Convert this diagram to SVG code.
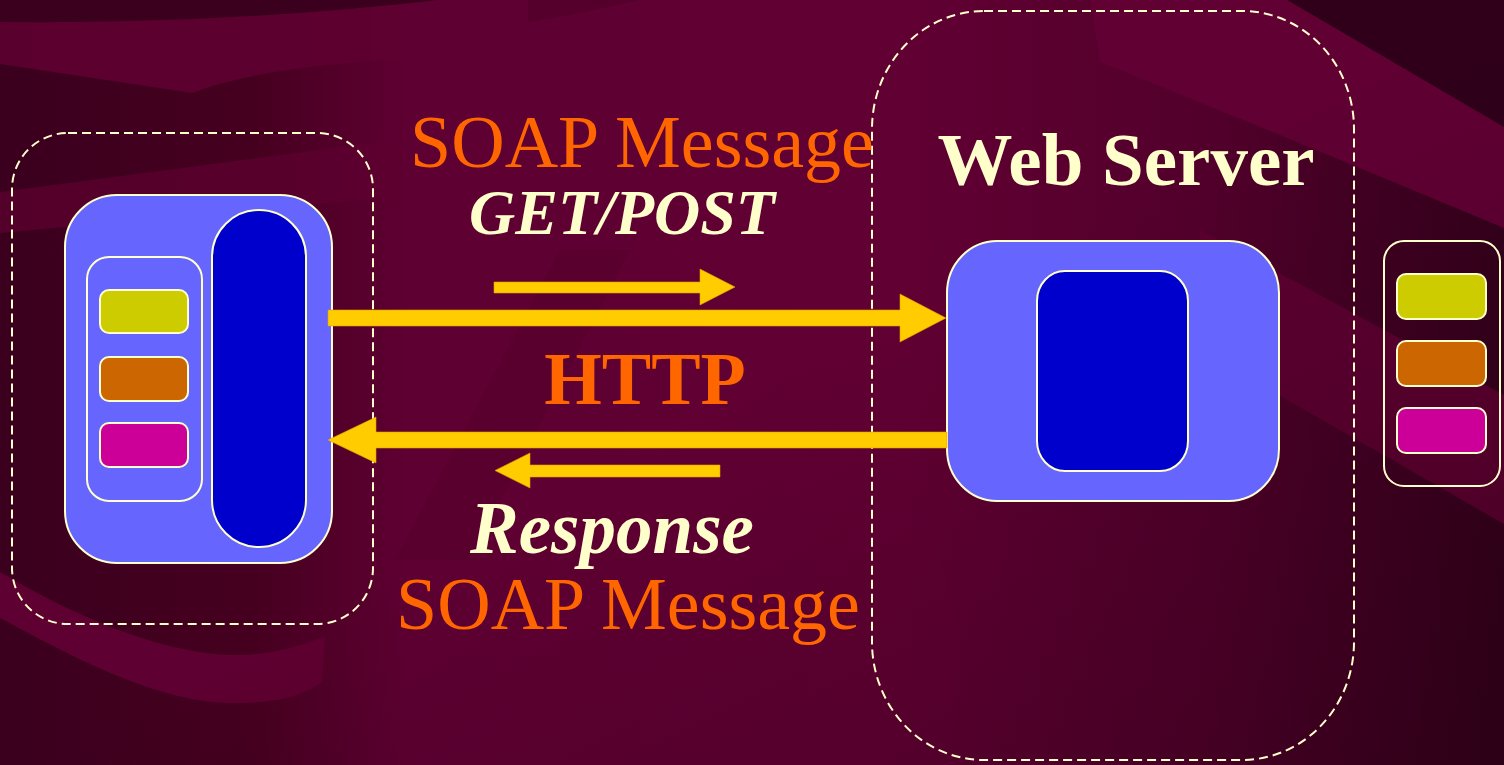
<svg xmlns="http://www.w3.org/2000/svg" width="1504" height="765" viewBox="0 0 1504 765">
  <defs>
    <linearGradient id="bgGrad" x1="0" y1="0" x2="1" y2="0">
      <stop offset="0" stop-color="#3a001e"/>
      <stop offset="0.17" stop-color="#46001f"/>
      <stop offset="0.27" stop-color="#5e0032"/>
      <stop offset="0.6" stop-color="#610033"/>
      <stop offset="0.8" stop-color="#52002b"/>
      <stop offset="1" stop-color="#34001b"/>
    </linearGradient>
    <linearGradient id="cornerShade" x1="0" y1="0" x2="1" y2="1">
      <stop offset="0.5" stop-color="#1a000c" stop-opacity="0"/>
      <stop offset="1" stop-color="#1a000c" stop-opacity="0.3"/>
    </linearGradient>
    <style>
      .band { fill: #5e0031; }
      .bandDark { fill: #3a001d; }
      .dash { fill: none; stroke: #ffffcc; stroke-width: 2; stroke-dasharray: 9 5; }
      .outer { fill: #6666ff; stroke: #ffffcc; stroke-width: 2; }
      .core { fill: #0000cc; stroke: #ffffcc; stroke-width: 2; }
      .panel { fill: #6666ff; stroke: #ffffcc; stroke-width: 2; }
      .stack { fill: none; stroke: #ffffcc; stroke-width: 2; }
      .slotY { fill: #cccc00; stroke: #ffffcc; stroke-width: 2; }
      .slotO { fill: #cc6600; stroke: #ffffcc; stroke-width: 2; }
      .slotM { fill: #cc0099; stroke: #ffffcc; stroke-width: 2; }
      .arrow { fill: #ffcc00; stroke: #e0a000; stroke-width: 0.6; }
      .orange { fill: #ff6600; font-family: "Liberation Serif", "Times New Roman", serif; }
      .cream { fill: #ffffcc; font-family: "Liberation Serif", "Times New Roman", serif; font-weight: bold; }
    </style>
  </defs>

  <!-- backdrop with swept bands -->
  <g id="background">
    <rect x="0" y="0" width="1504" height="765" fill="url(#bgGrad)"/>
    <path class="bandDark" d="M0,0 L440,0 Q230,24 0,22 Z"/>
    <path class="band" d="M0,22 Q230,24 440,0 L420,58 Q260,66 192,93 L0,64 Z" opacity="0.9"/>
    <path class="band" d="M0,192 L410,138 L405,196 L0,233 Z" opacity="0.7"/>
    <path class="band" d="M0,572 C80,620 170,655 235,655 C275,655 300,645 325,637 L322,682 C300,698 270,704 225,703 C150,700 60,650 0,618 Z"/>
    <path d="M560,250 L630,250 L470,560 L395,560 Z" fill="#520029" opacity="0.4"/>
    <path d="M528,0 L640,0 Q580,14 528,22 Z" fill="#55002c"/>
    <!-- right-hand diagonal stripes -->
    <path d="M1287,0 L1504,0 L1504,127 Z" fill="#30001a"/>
    <path d="M1090,0 L1287,0 L1504,127 L1504,228 L1280,135 L1100,62 Z" fill="#600033"/>
    <path d="M1200,230 L1504,395 L1504,524 L1200,350 Z" fill="#5c0030"/>
    <path d="M860,490 Q1000,560 945,765 L860,765 Z" fill="#610033" opacity="0.6"/>
    <rect x="0" y="0" width="1504" height="765" fill="url(#cornerShade)"/>
  </g>

  <!-- client side -->
  <g id="client">
    <rect class="dash" x="12" y="133" width="361" height="491" rx="56" ry="56"/>
    <rect class="outer" x="65" y="195" width="267" height="368" rx="52" ry="52"/>
    <rect class="core" x="212" y="210" width="94" height="337" rx="47" ry="47"/>
    <rect class="panel" x="87" y="257" width="115" height="244" rx="22" ry="22"/>
    <rect class="slotY" x="100" y="290" width="88" height="43" rx="9" ry="9"/>
    <rect class="slotO" x="100" y="357" width="88" height="44" rx="9" ry="9"/>
    <rect class="slotM" x="100" y="423" width="88" height="44" rx="9" ry="9"/>
  </g>

  <!-- web server -->
  <g id="web-server">
    <rect class="dash" x="872" y="11" width="482" height="749" rx="112" ry="118"/>
    <text class="cream" x="1126" y="185" font-size="75" text-anchor="middle">Web Server</text>
    <rect class="outer" x="947" y="241" width="332" height="260" rx="50" ry="52"/>
    <rect class="core" x="1037" y="271" width="151" height="200" rx="28" ry="30"/>
  </g>

  <!-- service stack -->
  <g id="service-stack">
    <rect class="stack" x="1384" y="241" width="116" height="245" rx="20" ry="20"/>
    <rect class="slotY" x="1397" y="274" width="89" height="45" rx="9" ry="9"/>
    <rect class="slotO" x="1397" y="341" width="89" height="45" rx="9" ry="9"/>
    <rect class="slotM" x="1397" y="408" width="89" height="45" rx="9" ry="9"/>
  </g>

  <!-- request / response arrows -->
  <g id="connectors">
    <polygon class="arrow" points="494,282 700,282 700,269 735,287 700,305 700,293 494,293"/>
    <polygon class="arrow" points="328,310 900,310 900,294 946,318 900,342 900,326 328,326"/>
    <polygon class="arrow" points="947,432 376,432 376,417 328,440 376,463 376,448 947,448"/>
    <polygon class="arrow" points="720,465 530,465 530,453 495,470.5 530,488 530,477 720,477"/>
  </g>

  <!-- labels -->
  <g id="labels">
    <text class="orange" x="642" y="167" font-size="74" text-anchor="middle">SOAP Message</text>
    <text class="cream" x="622" y="234" font-size="64" font-style="italic" text-anchor="middle">GET/POST</text>
    <text class="orange" x="645" y="404" font-size="74" font-weight="bold" text-anchor="middle">HTTP</text>
    <text class="cream" x="612" y="553" font-size="73" font-style="italic" text-anchor="middle">Response</text>
    <text class="orange" x="628" y="629" font-size="74" text-anchor="middle">SOAP Message</text>
  </g>
</svg>
